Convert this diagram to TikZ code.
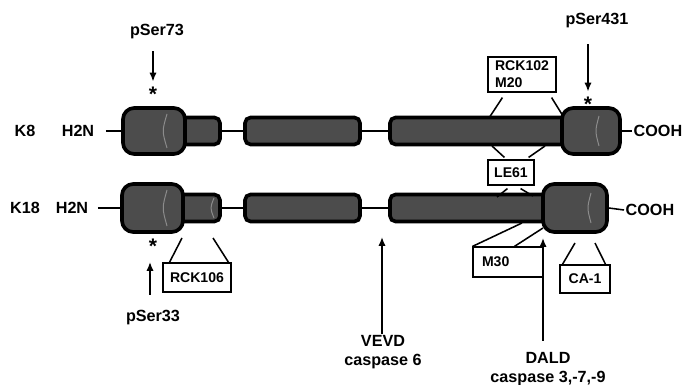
\documentclass[tikz,border=0pt]{standalone}
\usepackage{fontspec}
\setmainfont{Liberation Sans}
\usetikzlibrary{arrows.meta}
\tikzset{
  rod/.style={draw=black, line width=2.6pt, fill=black!70, rounded corners=4pt, inner sep=0pt, minimum height=0.675cm},
  knob/.style={rod, rounded corners=8pt, minimum height=1.15cm},
  rim/.style={black!45, line width=0.7pt},
  link/.style={line width=1.1pt},
  arr/.style={-{Latex[length=2.2mm,width=1.8mm]}, line width=1.1pt},
  lbl/.style={font=\bfseries\fontsize{11.5}{13}\selectfont, inner sep=1pt},
  star/.style={font=\bfseries\fontsize{15}{15}\selectfont, inner sep=1pt},
  abbox/.style={draw, line width=0.8pt, fill=white, inner sep=0pt, font=\bfseries\fontsize{10}{12}\selectfont},
}
\begin{document}
\begin{tikzpicture}[x=0.025cm, y=-0.025cm]
\useasboundingbox (0,0) rectangle (683,385);

\node[rod, minimum width=1.2cm] (k8seg) at (196,131) {};
\node[knob, minimum width=1.55cm] (k8head) at (154,131) {};
\node[rod, minimum width=2.875cm] (k8rodA) at (302.5,131) {};
\node[rod, minimum width=4.4cm] (k8rodB) at (478,131) {};
\node[knob, minimum width=1.45cm] (k8tail) at (591,131) {};
\draw[rim] (167,114) .. controls (162,131) .. (167,148);
\draw[rim] (599,116) .. controls (595,131) .. (599,146);

\node[rod, minimum width=1.2cm] (k18seg) at (196,208) {};
\node[knob, minimum width=1.525cm, minimum height=1.2cm] (k18head) at (152.5,208) {};
\node[rod, minimum width=2.875cm] (k18rodA) at (302.5,208) {};
\node[rod, minimum width=4cm] (k18rodB) at (470,208) {};
\node[knob, minimum width=1.6cm, minimum height=1.2cm] (k18tail) at (575,208) {};
\draw[rim] (167,190) .. controls (162,208) .. (167,226);
\draw[rim] (591,193) .. controls (587,208) .. (591,223);
\draw[rim] (214,198) .. controls (210,208) .. (214,218);

\node[lbl] (k8) at (25,131) {K8};
\node[lbl] (k8n) at (78,131) {H2N};
\node[lbl, anchor=west] (k8c) at (632,131) {COOH};
\node[lbl] (k18) at (25,208) {K18};
\node[lbl] (k18n) at (72,208) {H2N};
\node[lbl, anchor=west] (k18c) at (624,210) {COOH};

\draw[link] (k8n.east) ++(10,0) -- (k8head.west);
\draw[link] (k8seg.east) -- (k8rodA.west);
\draw[link] (k8rodA.east) -- (k8rodB.west);
\draw[link] (k8tail.east) -- (k8c.west);
\draw[link] (k18n.east) ++(8,0) -- (k18head.west);
\draw[link] (k18seg.east) -- (k18rodA.west);
\draw[link] (k18rodA.east) -- (k18rodB.west);
\draw[link] (k18tail.east) -- (k18c.west);

\node[lbl] (p73) at (157,32) {pSer73};
\node[star] (a73) at (153,94.5) {*};
\draw[arr, shorten <=2.5mm, shorten >=1mm] (p73.south -| a73) -- (a73);
\node[lbl] (p431) at (597,21) {pSer431};
\node[star] (a431) at (588,104.5) {*};
\draw[arr, shorten <=3.5mm, shorten >=1mm] (p431.south -| a431) -- (a431);
\node[lbl] (p33) at (153,318) {pSer33};
\node[star] (a33) at (153,246.5) {*};
\coordinate (p33tip) at (150,262);
\draw[arr, shorten <=3.5mm] (p33tip |- p33.north) -- (p33tip);

\node[abbox, minimum width=1.7cm, minimum height=0.875cm, align=left] (m20) at (522,74.5) {RCK102\\M20};
\coordinate (m20l) at (489,118);
\coordinate (m20r) at (563,116);
\draw[link] (m20.south west) ++(15,5) -- (m20l);
\draw[link] (m20.south east) ++(-5,5) -- (m20r);

\node[abbox, minimum width=1.15cm, minimum height=0.625cm] (le61) at (511,172.5) {LE61};
\coordinate (le61a) at (492,146);
\coordinate (le61b) at (545,146);
\coordinate (le61c) at (497,197);
\coordinate (le61d) at (533,196);
\draw[link] (le61.north west) ++(17,-2) -- (le61a);
\draw[link] (le61.north east) ++(-6,-2) -- (le61b);
\draw[link] (le61.south west) ++(20,3) -- (le61c);
\draw[link] (le61.south east) ++(-14,3) -- (le61d);

\node[abbox, minimum width=1.7cm, minimum height=0.725cm] (r106) at (197,277.5) {RCK106};
\coordinate (r106l) at (182,238);
\coordinate (r106r) at (213,238);
\draw[link] (r106.north west) ++(7,0) -- (r106l);
\draw[link] (r106.north east) ++(-3,0) -- (r106r);

\node[abbox, minimum width=1.75cm, minimum height=0.75cm, text width=1.3cm, align=left] (m30) at (508,262) {M30};
\coordinate (m30l) at (522,223);
\coordinate (m30r) at (543,228);
\draw[link] (m30.north west) -- (m30l);
\draw[link] (m30.north west) ++(42,0) -- (m30r);

\node[abbox, minimum width=1.25cm, minimum height=0.7cm] (ca1) at (585,279) {CA-1};
\coordinate (ca1l) at (575,243);
\coordinate (ca1r) at (595,243);
\draw[link] (ca1.north west) ++(3,0) -- (ca1l);
\draw[link] (ca1.north east) ++(-5,0) -- (ca1r);

\node[lbl, align=center] (vevd) at (383,352) {VEVD\\caspase 6};
\coordinate (vevdtip) at (382,237);
\draw[arr] (vevdtip |- vevd.north) -- (vevdtip);
\node[lbl, align=center] (dald) at (548,369) {DALD\\caspase 3,-7,-9};
\coordinate (daldtip) at (543,238);
\draw[arr, shorten <=2.5mm] (daldtip |- dald.north) -- (daldtip);
\end{tikzpicture}
\end{document}
